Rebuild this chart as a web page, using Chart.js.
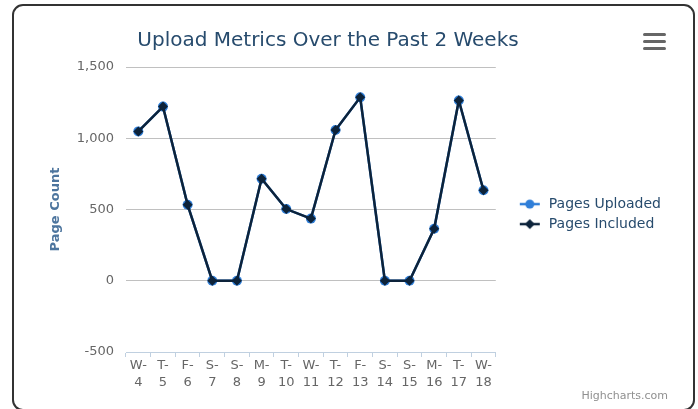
<!DOCTYPE html>
<html>
<head>
<meta charset="utf-8">
<script src="https://cdn.jsdelivr.net/npm/chart.js"></script>
<style>
  html, body { margin: 0; padding: 0; background: #fff; overflow: hidden; }
  #wrap { position: relative; width: 698px; height: 409px; font-family: "DejaVu Sans", sans-serif; }
  #frame { position: absolute; left: 12px; top: 4px; width: 683px; height: 407px; border: 2px solid #333; border-radius: 11px; box-sizing: border-box; }
  #chart { position: absolute; left: 0; top: 0; }
  #title { position: absolute; left: 0; width: 656px; top: 26px; line-height: 26px; text-align: center; font-size: 20px; color: #274b6d; white-space: nowrap; }
  #menu { position: absolute; left: 643px; top: 33px; width: 23px; }
  #menu span { display: block; height: 3px; margin-bottom: 4px; background: #666; border-radius: 2px; }
  #credits { position: absolute; right: 30px; top: 389px; font-size: 11px; color: #909090; }
</style>
</head>
<body>
<div id="wrap">
  <div id="frame"></div>
  <canvas id="chart" width="698" height="409"></canvas>
  <div id="title">Upload Metrics Over the Past 2 Weeks</div>
  <div id="menu"><span></span><span></span><span></span></div>
  <div id="credits">Highcharts.com</div>
</div>
<script>
// 曜日の頭文字と日付（2行ラベル）
const days  = ['W', 'T', 'F', 'S', 'S', 'M', 'T', 'W', 'T', 'F', 'S', 'S', 'M', 'T', 'W'];
const dates = ['4', '5', '6', '7', '8', '9', '10', '11', '12', '13', '14', '15', '16', '17', '18'];

const pagesUploaded = [1048, 1222, 533, 0, 0, 716, 503, 436, 1058, 1287, 0, 0, 365, 1265, 635];
const pagesIncluded = [1048, 1222, 533, 0, 0, 716, 503, 436, 1058, 1287, 0, 0, 365, 1265, 635];

const yMin = -500;
const yMax = 1500;
const yStep = 500;

const FONT = '"DejaVu Sans", sans-serif';
const PAD_L = 36;
const PAD_R = 27;
const PAD_B = 10;

// 凡例用シンボル（線 + マーカー）
function makeSymbol(color, shape) {
  const c = document.createElement('canvas');
  c.width = 40;
  c.height = 12;
  const g = c.getContext('2d');
  g.strokeStyle = color;
  g.fillStyle = color;
  g.lineWidth = 2.5;
  g.beginPath();
  g.moveTo(18, 6);
  g.lineTo(38, 6);
  g.stroke();
  g.beginPath();
  if (shape === 'circle') {
    g.arc(28, 6, 4.5, 0, Math.PI * 2);
  } else {
    g.moveTo(23, 6); g.lineTo(28, 1); g.lineTo(33, 6); g.lineTo(28, 11); g.closePath();
  }
  g.fill();
  return c;
}

const symbols = [makeSymbol('#2f7ed8', 'circle'), makeSymbol('#0d233a', 'diamond')];

new Chart(document.getElementById('chart'), {
  type: 'line',
  data: {
    labels: days.map((d, i) => [`${d}-`, dates[i]]),
    datasets: [
      {
        label: 'Pages Uploaded',
        data: pagesUploaded,
        borderColor: '#2f7ed8',
        backgroundColor: '#2f7ed8',
        borderWidth: 2.5,
        pointStyle: 'circle',
        pointRadius: 5,
        pointBorderWidth: 0,
        tension: 0,
        order: 1
      },
      {
        label: 'Pages Included',
        data: pagesIncluded,
        borderColor: '#0d233a',
        backgroundColor: '#0d233a',
        borderWidth: 2.5,
        pointStyle: 'rectRot',
        pointRadius: 5,
        pointBorderWidth: 0,
        tension: 0,
        order: 0
      }
    ]
  },
  options: {
    responsive: false,
    animation: false,
    layout: { padding: { left: PAD_L, top: 67, right: PAD_R, bottom: PAD_B } },
    plugins: {
      title: { display: false },
      tooltip: { enabled: false },
      legend: {
        position: 'right',
        fullSize: false,
        maxWidth: 220,
        // 空のタイトルで項目を少し下へ
        title: { display: true, text: '', font: { size: 1 }, padding: { top: 4, bottom: 4 } },
        labels: {
          usePointStyle: true,
          pointStyleWidth: 40,
          padding: 6,
          color: '#274b6d',
          font: { family: FONT, size: 14 },
          generateLabels: (chart) => chart.data.datasets.map((ds, i) => ({
            text: ds.label,
            pointStyle: symbols[i],
            fillStyle: ds.borderColor,
            strokeStyle: ds.borderColor,
            lineWidth: 0,
            hidden: !chart.isDatasetVisible(i),
            datasetIndex: i,
            fontColor: '#274b6d'
          }))
        }
      }
    },
    scales: {
      x: {
        offset: true,
        afterFit: (s) => { s.height = 409 - 352 - PAD_B; },
        grid: { offset: true, drawOnChartArea: false, drawTicks: true, tickLength: 5, color: '#C0D0E0' },
        border: { color: '#C0D0E0', width: 1 },
        ticks: {
          color: '#666',
          font: { family: FONT, size: 13, lineHeight: 1.3 },
          maxRotation: 0,
          autoSkip: false,
          padding: 0
        }
      },
      y: {
        min: yMin,
        max: yMax,
        afterFit: (s) => { s.width = 126 - PAD_L; },
        grid: {
          drawTicks: false,
          color: (ctx) => (ctx.tick && ctx.tick.value === yMin ? 'rgba(0,0,0,0)' : '#C0C0C0')
        },
        border: { display: false },
        ticks: {
          stepSize: yStep,
          padding: 12,
          color: '#666',
          font: { family: FONT, size: 13 },
          callback: (v) => Number(v).toLocaleString('en-US')
        },
        title: {
          display: true,
          text: 'Page Count',
          color: '#4d759e',
          font: { family: FONT, size: 13, weight: 'bold' },
          padding: { top: 12, bottom: 0 }
        }
      }
    }
  }
});
</script>
</body>
</html>
